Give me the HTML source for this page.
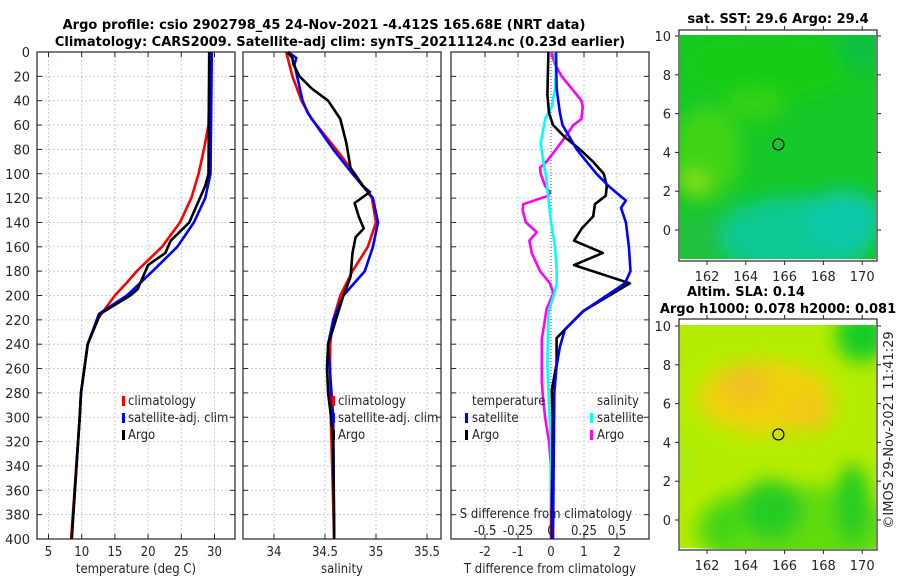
<!DOCTYPE html>
<html><head><meta charset="utf-8"><style>
html,body{margin:0;padding:0;background:#fff;}
svg{display:block;font-family:"DejaVu Sans","Liberation Sans",sans-serif;}
.tick{font-size:13px;fill:#262626;}
.lab{font-size:13px;fill:#262626;font-stretch:condensed;font-family:"DejaVu Sans Condensed","DejaVu Sans",sans-serif;}
.ttl{font-size:13px;font-weight:bold;fill:#000;}
</style></head><body>
<svg id="chart" width="900" height="580" viewBox="0 0 900 580">
<defs>
<filter id="blur8" x="-50%" y="-50%" width="200%" height="200%"><feGaussianBlur stdDeviation="9"/></filter>
<clipPath id="clipTop"><rect x="680" y="35" width="196" height="224"/></clipPath>
<clipPath id="clipBot"><rect x="680" y="325" width="196" height="224"/></clipPath>
</defs>
<text class="ttl" x="324" y="29" text-anchor="middle">Argo profile: csio 2902798_45 24-Nov-2021 -4.412S 165.68E (NRT data)</text>
<text class="ttl" x="340" y="46" text-anchor="middle">Climatology: CARS2009. Satellite-adj clim: synTS_20211124.nc (0.23d earlier)</text>
<g id="panels"></g>
<g id="maps"></g>
<text class="tick" x="893" y="430" text-anchor="middle" transform="rotate(-90 893 430)">©IMOS 29-Nov-2021 11:41:29</text>
</svg>
<script>
// ---------- data ----------
const depthTicks = [0,20,40,60,80,100,120,140,160,180,200,220,240,260,280,300,320,340,360,380,400];
const tempTicks = [5,10,15,20,25,30];
const salTicks = [34,34.5,35,35.5];
const salTickLabels = ["34","34.5","35","35.5"];
const tdiffTicks = [-2,-1,0,1,2];
const sdiffTickLabels = ["-0.5","-0.25","0","0.25","0.5"];
const sdiffTicks = [-0.5,-0.25,0,0.25,0.5];

const tClimDepth = [0,60,80,100,120,140,160,180,190,200,220,240,280,300,400];
const tClimVal   = [29.3,29.1,28.4,27.6,26.5,24.8,22.1,18.3,16.7,15.0,12.3,10.9,9.9,9.7,8.4];
const tSatDepth  = [0,100,120,140,160,180,200,215,240,280,300,400];
const tSatVal    = [29.6,29.4,28.6,26.9,24.4,20.7,16.8,12.6,10.9,9.9,9.7,8.5];
const tArgoDepth = [0,100,110,120,140,155,165,175,195,200,215,240,280,300,400];
const tArgoVal   = [29.2,29.1,28.6,27.8,26.2,23.4,22.6,20.0,18.4,17.3,12.8,10.9,9.9,9.7,8.5];

const sClimDepth = [0,20,40,55,80,100,120,140,160,180,200,220,240,280,400];
const sClimVal   = [34.12,34.18,34.27,34.37,34.61,34.79,34.96,35.0,34.92,34.77,34.65,34.58,34.55,34.55,34.59];
const sSatDepth  = [0,5,10,40,50,80,100,120,140,160,180,200,220,240,300,400];
const sSatVal    = [34.14,34.22,34.2,34.28,34.33,34.58,34.77,34.97,35.02,34.97,34.89,34.68,34.58,34.53,34.58,34.59];
const sArgoDepth = [0,5,10,20,30,40,55,75,95,110,115,124,135,145,152,165,185,200,230,240,260,280,300,320,400];
const sArgoVal   = [34.13,34.18,34.19,34.25,34.37,34.53,34.65,34.71,34.75,34.87,34.94,34.79,34.83,34.88,34.80,34.77,34.75,34.68,34.57,34.53,34.52,34.53,34.56,34.58,34.59];

const dtArgoDepth = [0,35,50,60,70,80,90,100,110,118,125,135,145,155,165,175,190,213,228,235,256,278,300,400];
const dtArgoVal   = [-0.08,-0.11,-0.06,0.06,0.42,0.88,1.27,1.6,1.69,1.66,1.33,1.28,0.93,0.7,1.57,0.7,2.39,0.97,0.42,0.17,0.17,0.02,0.05,0.02];
const dtSatDepth  = [0,30,50,60,80,100,110,118,122,128,140,160,180,190,200,213,228,242,258,280,400];
const dtSatVal    = [0.15,0.17,0.27,0.35,0.78,1.38,1.74,2.09,2.27,2.12,2.27,2.36,2.41,2.24,1.69,0.97,0.42,0.27,0.17,0.1,0.06];
const dsSatDepth  = [0,10,30,45,55,70,75,90,100,120,140,160,180,190,198,214,256,290,320,400];
const dsSatVal    = [0.025,0.038,0.03,0.005,-0.045,-0.07,-0.078,-0.058,-0.04,-0.02,0,0.03,0.043,0.043,0.025,-0.02,-0.028,-0.015,0,0.008];
const dsArgoDepth = [0,5,10,20,30,40,45,55,60,70,80,90,95,100,110,115,118,125,130,140,148,155,165,180,190,198,211,236,271,285,300,320,340,400];
const dsArgoVal   = [0.005,0.015,0.03,0.08,0.157,0.23,0.24,0.23,0.17,0.106,0.038,-0.033,-0.083,-0.078,-0.045,-0.008,-0.02,-0.21,-0.215,-0.19,-0.108,-0.164,-0.146,-0.083,-0.008,0.018,-0.033,-0.07,-0.07,-0.06,-0.045,-0.015,0,0];

const mapLonTicks = [162,164,166,168,170];
const mapLatTicks = [0,2,4,6,8,10];
const argoLon = 165.68;
const argoLat = 4.41;

// ---------- axes ----------
const NS='http://www.w3.org/2000/svg';
const Y0=52, Y1=539;
const yD = d => Y0 + d*(Y1-Y0)/400;
const xT = t => 48.5 + (t-5)*6.64;
const xS = s => 325 + (s-34.5)*102;
const xDT = t => 551 + t*33;
const xDS = s => 551 + s*132;
const panels = document.getElementById('panels');
function mk(tag, attrs, parent){const e=document.createElementNS(NS,tag);for(const k in attrs)e.setAttribute(k,attrs[k]);(parent||panels).appendChild(e);return e;}

function drawPanel(x0,x1,xticks,xfn,xlabels,name,xtitle){
  const g=mk('g',{});
  
  
  depthTicks.forEach(d=>{
    const l=mk('line',{x1:x0,x2:x1,y1:yD(d),y2:yD(d),stroke:'#c4cbe4','stroke-width':1,'stroke-dasharray':'2,2'},g);
    
    
    mk('line',{x1:x0,x2:x0+5,y1:yD(d),y2:yD(d),stroke:'#262626'},g);
    mk('line',{x1:x1-5,x2:x1,y1:yD(d),y2:yD(d),stroke:'#262626'},g);
  });
  xticks.forEach((t,i)=>{
    const x=xfn(t);
    if(!(name==='tdiff' && t===0)){
      const l=mk('line',{x1:x,x2:x,y1:Y0,y2:Y1,stroke:'#c4cbe4','stroke-width':1,'stroke-dasharray':'2,2'},g);
      
      
    }
    mk('line',{x1:x,x2:x,y1:Y1-5,y2:Y1,stroke:'#262626'},g);
    mk('line',{x1:x,x2:x,y1:Y0,y2:Y0+5,stroke:'#262626'},g);
    const tx=mk('text',{x:x,y:556,'text-anchor':'middle','class':'lab'},g);
    tx.textContent=xlabels[i];
    
    
  });
  const r=mk('rect',{x:x0,y:Y0,width:x1-x0,height:Y1-Y0,fill:'none',stroke:'#262626','stroke-width':1.2},g);
  
  
  const tt=mk('text',{x:(x0+x1)/2,y:573,'text-anchor':'middle','class':'lab'},g);
  tt.textContent=xtitle;
  
  
  return g;
}
function series(depths, vals, xfn, color, name, w){
  const pts=depths.map((d,i)=>xfn(vals[i]).toFixed(1)+','+yD(d).toFixed(1)).join(' ');
  const p=mk('polyline',{points:pts,fill:'none',stroke:color,'stroke-width':w||2.6,'stroke-linejoin':'round'});
  
  
}
function txt(x,y,s,name,anchor,cls){
  const t=mk('text',{x:x,y:y,'text-anchor':anchor||'start','class':cls||'lab'});
  t.textContent=s;
  
  
  return t;
}
function legBar(x,y,color,name){
  const r=mk('rect',{x:x,y:y-9,width:3,height:10,fill:color});
  
  
}

drawPanel(37,235,tempTicks,xT,tempTicks.map(String),'temperature','temperature (deg C)');
drawPanel(243,441,salTicks,xS,salTickLabels,'salinity','salinity');
drawPanel(451,649,tdiffTicks,xDT,tdiffTicks.map(String),'tdiff','T difference from climatology');

depthTicks.forEach(d=>{
  const t=mk('text',{x:30,y:yD(d)+5,'text-anchor':'end','class':'tick'});
  t.textContent=String(d);
  
  
});
{const l=mk('line',{x1:xDT(0),x2:xDT(0),y1:Y0,y2:Y1,stroke:'#555','stroke-width':1,'stroke-dasharray':'1,2'});

}

series(tClimDepth,tClimVal,xT,'#ff0000','temp-climatology-line');
series(tSatDepth,tSatVal,xT,'#0000ff','temp-satellite-line');
series(tArgoDepth,tArgoVal,xT,'#000000','temp-argo-line');
series(sClimDepth,sClimVal,xS,'#ff0000','sal-climatology-line');
series(sSatDepth,sSatVal,xS,'#0000ff','sal-satellite-line');
series(sArgoDepth,sArgoVal,xS,'#000000','sal-argo-line');
series(dsArgoDepth,dsArgoVal,xDS,'#ff00ff','sdiff-argo-line');
series(dsSatDepth,dsSatVal,xDS,'#00ffff','sdiff-satellite-line');
series(dtArgoDepth,dtArgoVal,xDT,'#000000','tdiff-argo-line');
series(dtSatDepth,dtSatVal,xDT,'#0000ff','tdiff-satellite-line');

[[122,'legend-climatology','climatology','#ff0000'],[122,'legend-satellite','satellite-adj. clim','#0000ff'],[122,'legend-argo','Argo','#000000']].forEach((e,i)=>{
  legBar(e[0],405+i*17,e[3],'temp-'+e[1]+'-swatch');
  txt(e[0]+6,405+i*17,e[2],'temp-'+e[1]);
});
[[332,'legend-climatology','climatology','#ff0000'],[332,'legend-satellite','satellite-adj. clim','#0000ff'],[332,'legend-argo','Argo','#000000']].forEach((e,i)=>{
  legBar(e[0],405+i*17,e[3],'sal-'+e[1]+'-swatch');
  txt(e[0]+6,405+i*17,e[2],'sal-'+e[1]);
});
txt(472,405,'temperature','tdiff-legend-header');
legBar(465,422,'#0000ff','tdiff-legend-satellite-swatch');
txt(472,422,'satellite','tdiff-legend-satellite');
legBar(465,439,'#000000','tdiff-legend-argo-swatch');
txt(472,439,'Argo','tdiff-legend-argo');
txt(597,405,'salinity','sdiff-legend-header');
legBar(590,422,'#00ffff','sdiff-legend-satellite-swatch');
txt(597,422,'satellite','sdiff-legend-satellite');
legBar(590,439,'#ff00ff','sdiff-legend-argo-swatch');
txt(597,439,'Argo','sdiff-legend-argo');
txt(546,518,'S difference from climatology','sdiff-axis-title','middle');
sdiffTicks.forEach((s,i)=>txt(xDS(s),535,sdiffTickLabels[i],'sdiff-tick-label','middle'));

// ---------- maps ----------
const maps=document.getElementById('maps');
function mm(tag,attrs,parent){const e=document.createElementNS(NS,tag);for(const k in attrs)e.setAttribute(k,attrs[k]);(parent||maps).appendChild(e);return e;}
const mX = lon => 707 + (lon-162)*19.4;
function drawMap(top, latZeroY, title1, title2, kind){
  const mY = lat => latZeroY - lat*19.4;
  const g=mm('g',{'clip-path':'url(#'+(kind==='sst'?'clipTop':'clipBot')+')'});
  
  
  if(kind==='sst'){
    mm('rect',{x:680,y:top+5,width:196,height:224,fill:'#16c828'},g);
    const b=mm('g',{filter:'url(#blur8)'},g);
    mm('ellipse',{cx:mX(166.5),cy:mY(-0.3),rx:80,ry:40,fill:'#0cc890'},b);
    mm('ellipse',{cx:mX(169),cy:mY(0.5),rx:40,ry:30,fill:'#08c8a8'},b);
    mm('ellipse',{cx:mX(161.5),cy:mY(-0.5),rx:25,ry:25,fill:'#20c040'},b);
    mm('ellipse',{cx:mX(165),cy:mY(8.5),rx:90,ry:36,fill:'#18cc18'},b);
    mm('ellipse',{cx:mX(162),cy:mY(4),rx:34,ry:46,fill:'#40d418'},b);
    mm('ellipse',{cx:mX(161.3),cy:mY(2.4),rx:14,ry:12,fill:'#90e018'},b);
    mm('ellipse',{cx:mX(164.5),cy:mY(6.5),rx:30,ry:18,fill:'#30d018'},b);
    mm('ellipse',{cx:mX(170),cy:mY(9.5),rx:25,ry:25,fill:'#10c040'},b);
  } else {
    mm('rect',{x:680,y:top+5,width:196,height:224,fill:'#b4ec00'},g);
    const b=mm('g',{filter:'url(#blur8)'},g);
    mm('ellipse',{cx:mX(165),cy:mY(6.3),rx:68,ry:36,fill:'#f0d010'},b);
    mm('ellipse',{cx:mX(164),cy:mY(7),rx:22,ry:20,fill:'#f0c020'},b);
    mm('ellipse',{cx:mX(167.3),cy:mY(5.5),rx:22,ry:18,fill:'#f0c818'},b);
    mm('ellipse',{cx:mX(166.5),cy:mY(-0.5),rx:100,ry:45,fill:'#60dc10'},b);
    mm('ellipse',{cx:mX(165.3),cy:mY(0.5),rx:32,ry:30,fill:'#28cc20'},b);
    mm('ellipse',{cx:mX(162.8),cy:mY(-0.3),rx:14,ry:26,fill:'#40d418'},b);
    mm('ellipse',{cx:mX(169.5),cy:mY(0.8),rx:18,ry:40,fill:'#28cc20'},b);
    mm('ellipse',{cx:mX(170),cy:mY(9.5),rx:26,ry:26,fill:'#18cc28'},b);
    mm('ellipse',{cx:mX(160.8),cy:mY(3),rx:10,ry:30,fill:'#a8ec08'},b);
  }
  const c=mm('circle',{cx:mX(argoLon),cy:mY(argoLat),r:5.5,fill:'none',stroke:'#000','stroke-width':1.2});
  
  
  const fr=mm('rect',{x:679,y:top,width:198,height:231,fill:'none',stroke:'#262626','stroke-width':1.2});
  
  
  mapLatTicks.forEach(lat=>{
    const y=mY(lat);
    mm('line',{x1:675,x2:679,y1:y,y2:y,stroke:'#262626'});
    mm('line',{x1:877,x2:881,y1:y,y2:y,stroke:'#262626'});
    const t=mm('text',{x:671,y:y+5,'text-anchor':'end','class':'tick'});
    t.textContent=String(lat);
    
    
  });
  mapLonTicks.forEach(lon=>{
    const x=mX(lon);
    mm('line',{x1:x,x2:x,y1:top+231,y2:top+235,stroke:'#262626'});
    mm('line',{x1:x,x2:x,y1:top-4,y2:top,stroke:'#262626'});
    const t=mm('text',{x:x,y:top+251,'text-anchor':'middle','class':'tick'});
    t.textContent=String(lon);
    
    
  });
  const t1=mm('text',{x:kind==='sst'?778:746,y:kind==='sst'?23:296,'text-anchor':'middle','class':'ttl'});
  t1.textContent=title1;
  
  
  if(title2){
    const t2=mm('text',{x:778,y:313,'text-anchor':'middle','class':'ttl'});
    t2.textContent=title2;
    
    
  }
}
drawMap(30,230,'sat. SST: 29.6 Argo: 29.4',null,'sst');
drawMap(319,520,'Altim. SLA: 0.14','Argo h1000: 0.078 h2000: 0.081','sla');
</script>
</body></html>
